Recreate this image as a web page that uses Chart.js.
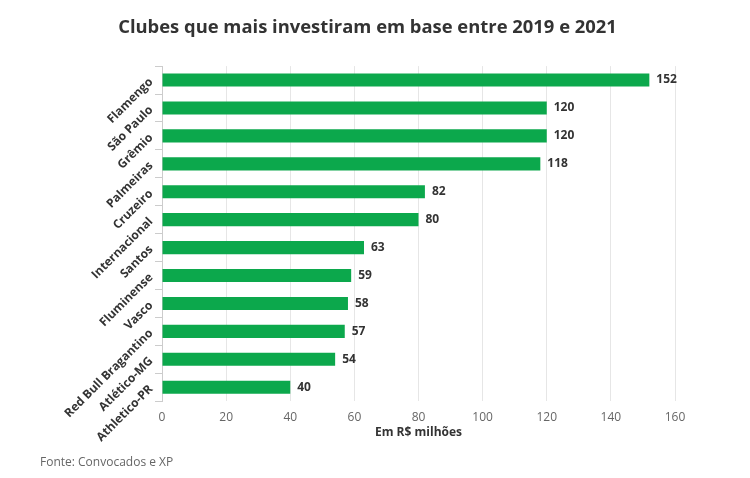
<!DOCTYPE html>
<html>
<head>
<meta charset="utf-8">
<script src="https://cdn.jsdelivr.net/npm/chart.js@4"></script>
<style>
  html, body { margin: 0; padding: 0; background: #fff; }
  #wrap { width: 750px; height: 478px; }
</style>
</head>
<body>
<div id="wrap"><canvas id="clubes"></canvas></div>
<script>
var clubes = ['Flamengo', 'São Paulo', 'Grêmio', 'Palmeiras', 'Cruzeiro', 'Internacional',
  'Santos', 'Fluminense', 'Vasco', 'Red Bull Bragantino', 'Atlético-MG', 'Athletico-PR'];
var investimento = [152, 120, 120, 118, 82, 80, 63, 59, 58, 57, 54, 40];
var xTicks = [0, 20, 40, 60, 80, 100, 120, 140, 160];
var fonte = 'Fonte: Convocados e XP';

Chart.defaults.font.family = "'Open Sans', 'Noto Sans', sans-serif";

// rotulo de valor no fim de cada barra + fonte no rodape
var valueLabels = {
  id: 'valueLabels',
  afterDatasetsDraw: function(chart) {
    var ctx = chart.ctx;
    var meta = chart.getDatasetMeta(0);
    ctx.save();
    ctx.font = "bold 12px 'Open Sans', sans-serif";
    ctx.fillStyle = '#333';
    ctx.textAlign = 'left';
    ctx.textBaseline = 'middle';
    meta.data.forEach(function(bar, i) {
      ctx.fillText(chart.data.datasets[0].data[i], bar.x + 7, bar.y);
    });
    ctx.font = "12px 'Open Sans', sans-serif";
    ctx.fillStyle = '#666';
    ctx.fillText(fonte, 40, chart.height - 15);
    ctx.restore();
  }
};

function createChart() {
  var element = document.getElementById('clubes').getContext('2d');

  var chart = new Chart(element, {
    type: 'bar',
    data: {
      labels: clubes,
      datasets: [{
        label: 'Investimento',
        backgroundColor: 'rgb(12, 168, 76)',
        data: investimento,
        categoryPercentage: 1,
        barPercentage: 0.47
      }]
    },
    options: {
      indexAxis: 'y',
      responsive: true,
      maintainAspectRatio: false,
      animation: false,
      layout: { padding: { left: 60, right: 75, top: 0, bottom: 38 } },
      plugins: {
        legend: { display: false },
        tooltip: { enabled: false },
        title: {
          display: true,
          text: 'Clubes que mais investiram em base entre 2019 e 2021',
          color: '#333',
          font: { size: 18.4, weight: 'bold' },
          padding: { top: 17, bottom: 27 }
        }
      },
      scales: {
        x: {
          min: 0,
          max: 160,
          afterBuildTicks: function(axis) {
            axis.ticks = xTicks.map(function(v) { return { value: v }; });
          },
          grid: { color: '#e6e6e6', drawTicks: false },
          border: { display: false },
          ticks: { color: '#666', font: { size: 12 }, padding: 9 },
          title: {
            display: true,
            text: 'Em R$ milhões',
            color: '#333',
            font: { size: 12, weight: 'bold' },
            padding: { top: -8, bottom: 0 }
          }
        },
        y: {
          afterFit: function(axis) { axis.width = 102; },
          grid: { offset: true, drawOnChartArea: false, drawTicks: true, tickLength: 7, color: '#ccc' },
          border: { display: true, color: '#ccc' },
          ticks: {
            color: '#333',
            font: { size: 12, weight: 'bold' },
            minRotation: 45,
            maxRotation: 45,
            padding: 4
          }
        }
      }
    },
    plugins: [valueLabels]
  });
}

createChart();
</script>
</body>
</html>
